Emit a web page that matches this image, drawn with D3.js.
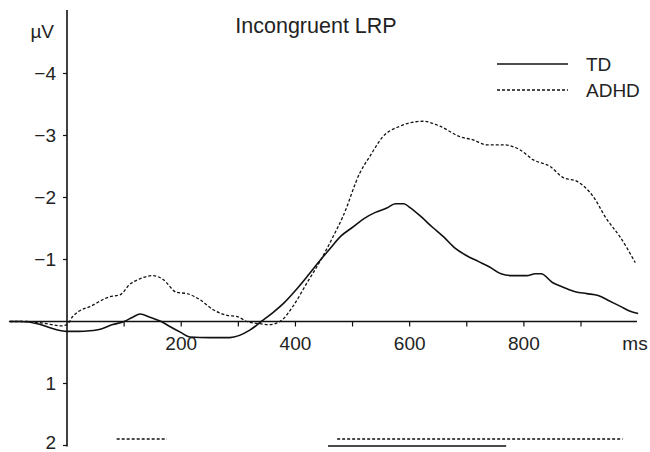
<!DOCTYPE html>
<html>
<head>
<meta charset="utf-8">
<script src="https://cdn.jsdelivr.net/npm/d3@7"></script>
<style>
  body { margin: 0; background: #fff; }
  text { font-family: "Liberation Sans", Arial, sans-serif; fill: #222; }
</style>
</head>
<body>
<div id="chart"></div>
<script>
// time points (ms) and amplitudes (uV)
var tdTimes = [-100, -80, -50, -30, -10, 0, 20, 40, 60, 80, 100, 115, 128, 145, 165, 180, 200, 215, 250, 285, 320, 340,
  360, 380, 400, 420, 440, 460, 480, 500, 520, 540, 560, 575, 590, 600, 620, 640, 660, 680, 700, 720, 740, 760, 780,
  805, 820, 830, 850, 870, 890, 910, 930, 950, 970, 985, 1000];
var tdValues = [0.0, 0.0, 0.04, 0.1, 0.15, 0.16, 0.16, 0.15, 0.12, 0.05, 0.0, -0.07, -0.12, -0.07, 0.0, 0.08, 0.18, 0.25, 0.26, 0.26, 0.14, 0.0,
  -0.14, -0.3, -0.5, -0.72, -0.95, -1.17, -1.38, -1.52, -1.66, -1.76, -1.83, -1.9, -1.9, -1.84, -1.69, -1.52, -1.36, -1.18, -1.06, -0.97, -0.88, -0.77, -0.74,
  -0.74, -0.77, -0.77, -0.63, -0.55, -0.48, -0.45, -0.42, -0.33, -0.24, -0.17, -0.13];

var adhdTimes = [-100, -70, -40, -10, 0, 10, 20, 40, 75, 93, 110, 128, 151, 168, 192, 210, 233, 256, 280, 298, 315, 333, 355, 373,
  396, 420, 443, 466, 483, 513, 530, 553, 583, 623, 653, 688, 711, 735, 763, 793, 816, 846, 869, 893, 921, 945, 968, 995];
var adhdValues = [0.0, 0.0, 0.03, 0.07, 0.05, -0.08, -0.16, -0.24, -0.4, -0.43, -0.6, -0.69, -0.74, -0.68, -0.47, -0.45, -0.35, -0.19, -0.1, -0.08, 0.0, 0.03, 0.05, 0.0,
  -0.25, -0.62, -0.97, -1.37, -1.69, -2.4, -2.66, -2.98, -3.15, -3.23, -3.15, -2.98, -2.93, -2.85, -2.85, -2.77, -2.61, -2.5, -2.32, -2.26, -2.02, -1.65, -1.37, -0.95];

// significance intervals (ms)
var tdSig = [[457, 769]];
var adhdSig = [[87, 175], [473, 973]];

var xTicks = [100, 200, 300, 400, 500, 600, 700, 800, 900];
var xLabels = [200, 400, 600, 800];
var yTicks = [-4, -3, -2, -1, 1, 2];

var width = 650, height = 452;

var svg = d3.select('#chart').append('svg')
    .attr('width', width)
    .attr('height', height);

var x = d3.scaleLinear().domain([0, 900]).range([67, 581]);
var y = d3.scaleLinear().domain([0, 2]).range([321.5, 445.5]);

// axes
svg.append('line')
    .attr('x1', x(-100) - 1).attr('x2', x(998))
    .attr('y1', y(0)).attr('y2', y(0))
    .attr('stroke', '#111').attr('stroke-width', 1.6);

svg.append('line')
    .attr('x1', x(0)).attr('x2', x(0))
    .attr('y1', 10).attr('y2', y(2) + 1)
    .attr('stroke', '#111').attr('stroke-width', 1.6);

svg.selectAll('.xtick').data(xTicks).enter().append('line')
    .attr('class', 'xtick')
    .attr('x1', function(d) { return x(d); }).attr('x2', function(d) { return x(d); })
    .attr('y1', y(0)).attr('y2', y(0) + 5)
    .attr('stroke', '#111').attr('stroke-width', 1.2);

svg.selectAll('.xlabel').data(xLabels).enter().append('text')
    .attr('class', 'xlabel')
    .attr('x', function(d) { return x(d); })
    .attr('y', 350)
    .attr('text-anchor', 'middle')
    .style('font-size', '19px')
    .text(function(d) { return d; });

svg.append('text')
    .attr('x', 635).attr('y', 350)
    .attr('text-anchor', 'middle')
    .style('font-size', '19px')
    .text('ms');

svg.selectAll('.ytick').data(yTicks).enter().append('line')
    .attr('class', 'ytick')
    .attr('x1', x(0) - 4).attr('x2', x(0))
    .attr('y1', function(d) { return y(d); }).attr('y2', function(d) { return y(d); })
    .attr('stroke', '#111').attr('stroke-width', 1.2);

// bottom label sits at the page edge, keep it inside
svg.selectAll('.ylabel').data(yTicks).enter().append('text')
    .attr('class', 'ylabel')
    .attr('x', 56)
    .attr('y', function(d) { return Math.min(y(d), 443); })
    .attr('dy', '0.33em')
    .attr('text-anchor', 'end')
    .style('font-size', '19px')
    .text(function(d) { return d < 0 ? '\u2212' + Math.abs(d) : d; });

svg.append('text')
    .attr('x', 54).attr('y', 38)
    .attr('text-anchor', 'end')
    .style('font-size', '19px')
    .text('\u00b5V');

svg.append('text')
    .attr('x', 316).attr('y', 33)
    .attr('text-anchor', 'middle')
    .style('font-size', '21.5px')
    .text('Incongruent LRP');

// curves
var line = d3.line()
    .x(function(d) { return x(d[0]); })
    .y(function(d) { return y(d[1]); })
    .curve(d3.curveMonotoneX);

svg.append('path')
    .datum(d3.zip(tdTimes, tdValues))
    .attr('d', line)
    .attr('fill', 'none')
    .attr('stroke', '#111')
    .attr('stroke-width', 1.6);

svg.append('path')
    .datum(d3.zip(adhdTimes, adhdValues))
    .attr('d', line)
    .attr('fill', 'none')
    .attr('stroke', '#111')
    .attr('stroke-width', 1.3)
    .attr('stroke-dasharray', '3,2');

// significance bars
svg.selectAll('.adhdsig').data(adhdSig).enter().append('line')
    .attr('class', 'adhdsig')
    .attr('x1', function(d) { return x(d[0]); }).attr('x2', function(d) { return x(d[1]); })
    .attr('y1', 439).attr('y2', 439)
    .attr('stroke', '#111').attr('stroke-width', 1.3)
    .attr('stroke-dasharray', '3,2');

svg.selectAll('.tdsig').data(tdSig).enter().append('line')
    .attr('class', 'tdsig')
    .attr('x1', function(d) { return x(d[0]); }).attr('x2', function(d) { return x(d[1]); })
    .attr('y1', 446).attr('y2', 446)
    .attr('stroke', '#111').attr('stroke-width', 1.6);

// legend
var legend = svg.append('g');
var legendItems = [{name: 'TD', dash: null, w: 1.6}, {name: 'ADHD', dash: '3,2', w: 1.3}];
legendItems.forEach(function(d, i) {
  var ly = 64 + i * 26;
  legend.append('line')
      .attr('x1', 497).attr('x2', 568)
      .attr('y1', ly).attr('y2', ly)
      .attr('stroke', '#111').attr('stroke-width', d.w)
      .attr('stroke-dasharray', d.dash);
  legend.append('text')
      .attr('x', 586).attr('y', ly)
      .attr('dy', '0.36em')
      .style('font-size', '19px')
      .text(d.name);
});
</script>
</body>
</html>
